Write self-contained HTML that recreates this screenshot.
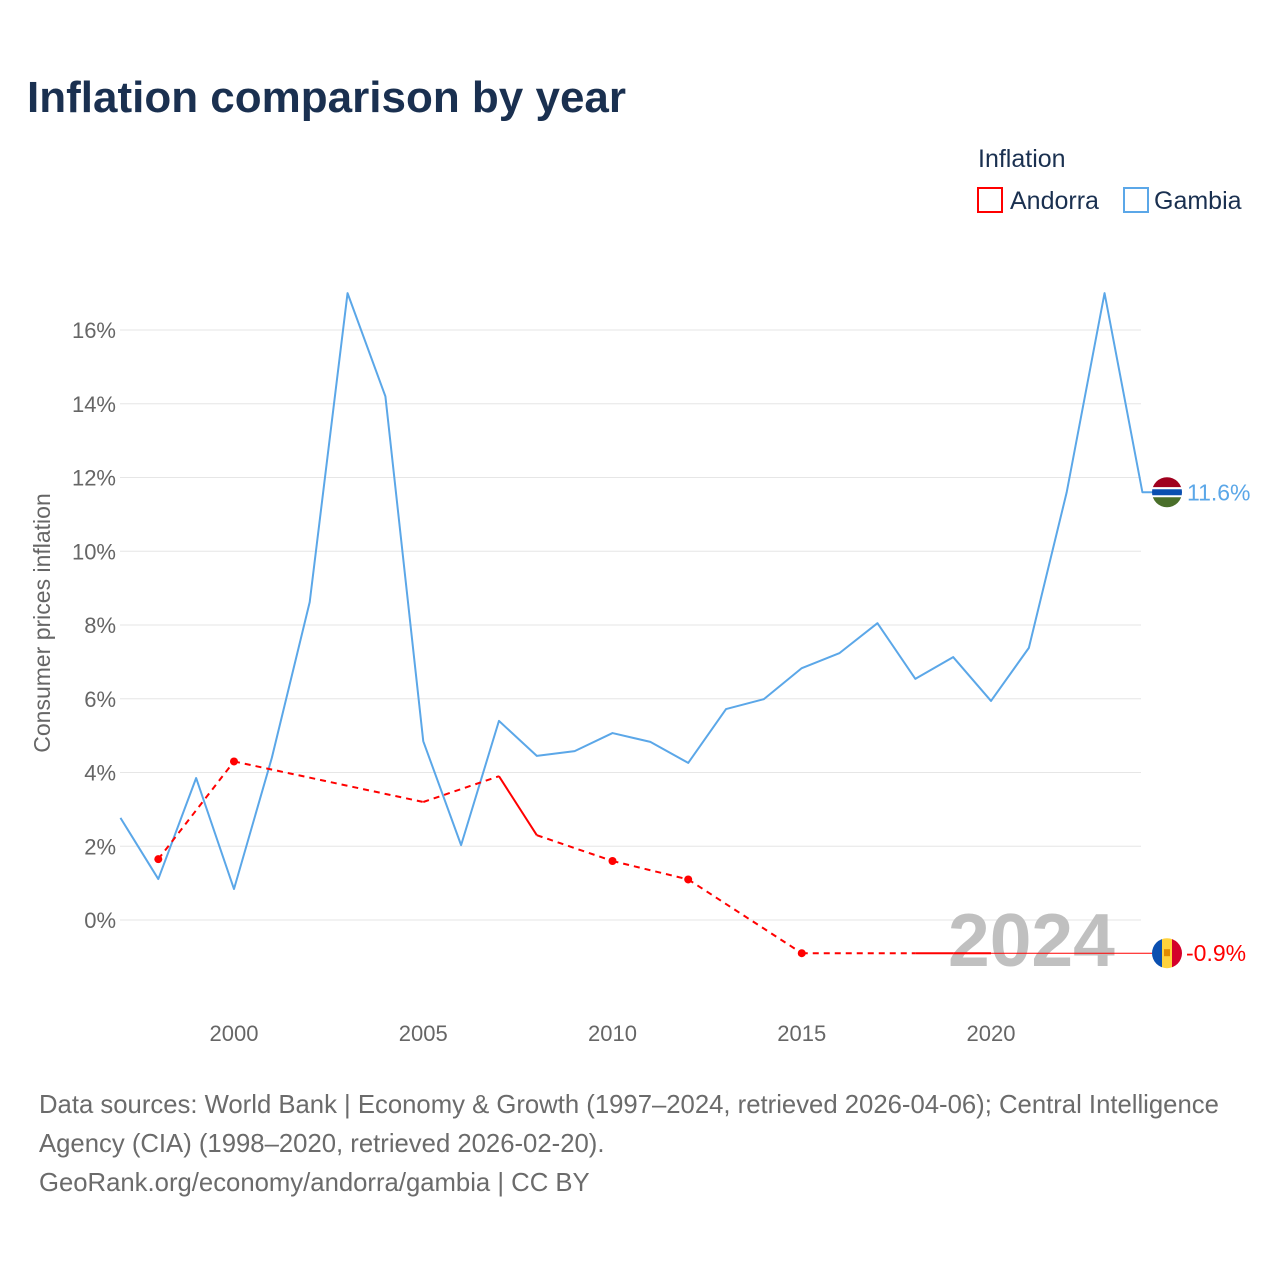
<!DOCTYPE html>
<html><head><meta charset="utf-8">
<style>
body{margin:0;background:#fff;font-family:"Liberation Sans",sans-serif;}
#wrap{position:relative;width:1280px;height:1280px;overflow:hidden;}
</style></head>
<body><div id="wrap">
<svg id="svg" width="1280" height="1280" xmlns="http://www.w3.org/2000/svg">
<text x="27" y="112" font-size="44" font-weight="bold" fill="#1a3050">Inflation comparison by year</text>
<text x="978" y="167" font-size="25" fill="#1a3050">Inflation</text>
<g><rect x="978" y="188" width="24" height="24" fill="none" stroke="#ff0000" stroke-width="2"/><text x="1010" y="209" font-size="25" fill="#1a3050">Andorra</text></g>
<g><rect x="1124" y="188" width="24" height="24" fill="none" stroke="#5ba7e8" stroke-width="2"/><text x="1154" y="209" font-size="25" fill="#1a3050">Gambia</text></g>
<g id="grid"></g>
<text x="948" y="966" font-size="75" font-weight="bold" fill="#c0c0c0">2024</text>
<g id="plot"></g>
<text transform="translate(50,623) rotate(-90)" text-anchor="middle" font-size="23" fill="#666">Consumer prices inflation</text>
<g font-size="25.7" fill="#6b6b6b">
<text x="39" y="1113">Data sources: World Bank | Economy &amp; Growth (1997–2024, retrieved 2026-04-06); Central Intelligence</text>
<text x="39" y="1152">Agency (CIA) (1998–2020, retrieved 2026-02-20).</text>
<text x="39" y="1191">GeoRank.org/economy/andorra/gambia | CC BY</text>
</g>
</svg></div>
<script>
const gambiaYears=[1997,1998,1999,2000,2001,2002,2003,2004,2005,2006,2007,2008,2009,2010,2011,2012,2013,2014,2015,2016,2017,2018,2019,2020,2021,2022,2023,2024];
const gambiaValues=[2.77,1.11,3.85,0.84,4.4,8.62,17.0,14.2,4.85,2.03,5.4,4.45,4.58,5.07,4.83,4.26,5.72,5.99,6.83,7.24,8.05,6.54,7.13,5.94,7.38,11.6,17.0,11.6];
const andorraYears=[1998,2000,2005,2007,2008,2010,2012,2015,2018,2019,2020];
const andorraValues=[1.65,4.3,3.2,3.9,2.3,1.6,1.1,-0.9,-0.9,-0.9,-0.9];
const andorraNoMarker=[2005];
const yTicks=[0,2,4,6,8,10,12,14,16];
const xTicks=[2000,2005,2010,2015,2020];
const NS="http://www.w3.org/2000/svg";
const X=y=>234+(y-2000)*(991-234)/20;
const Y=v=>920-v*(920-330)/16;
function mk(tag,attrs,parent){const e=document.createElementNS(NS,tag);for(const k in attrs)e.setAttribute(k,attrs[k]);parent.appendChild(e);return e;}
const grid=document.getElementById('grid'),plot=document.getElementById('plot');
yTicks.forEach(t=>{
 const l=mk('line',{x1:120,x2:1141,y1:Y(t),y2:Y(t),stroke:'#e6e6e6','stroke-width':1},grid);
 
 
 const tx=mk('text',{x:116,y:Y(t)+8,'text-anchor':'end','font-size':22,fill:'#666'},grid);tx.textContent=t+'%';
 
 
});
xTicks.forEach(t=>{
 const tx=mk('text',{x:X(t),y:1041,'text-anchor':'middle','font-size':22,fill:'#666'},grid);tx.textContent=t;
 
 
});
let d=gambiaYears.map((y,i)=>(i?'L':'M')+X(y)+','+Y(gambiaValues[i])).join(' ');
const gl=gambiaValues[gambiaValues.length-1];
d+=' L1152,'+Y(gl);
const gp=mk('path',{d:d,fill:'none',stroke:'#5ba7e8','stroke-width':2,'stroke-linejoin':'round'},plot);


for(let i=0;i<andorraYears.length-1;i++){
 const cons=andorraYears[i+1]-andorraYears[i]===1;
 const s=mk('line',{x1:X(andorraYears[i]),y1:Y(andorraValues[i]),x2:X(andorraYears[i+1]),y2:Y(andorraValues[i+1]),stroke:'#ff0000','stroke-width':2,'stroke-dasharray':cons?'none':'6,5'},plot);
 
 
}
andorraYears.forEach((y,i)=>{
 const prev=i>0&&y-andorraYears[i-1]===1,next=i<andorraYears.length-1&&andorraYears[i+1]-y===1;
 if(!prev&&!next&&andorraNoMarker.indexOf(y)<0){const c=mk('circle',{cx:X(y),cy:Y(andorraValues[i]),r:4,fill:'#ff0000'},plot);
 
 }
});
const al=andorraValues[andorraValues.length-1];
const ext=mk('line',{x1:X(2020),y1:Y(al),x2:1152,y2:Y(al),stroke:'#ff0000','stroke-width':1},plot);


function flag(cy,type){
 const g=mk('g',{},plot);
 const id='c'+type;
 const cp=mk('clipPath',{id:id},g);mk('circle',{cx:1167,cy:cy,r:15},cp);
 const gg=mk('g',{'clip-path':'url(#'+id+')'},g);
 if(type==='gm'){
  mk('rect',{x:1150,y:cy-16,width:34,height:11,fill:'#a0001e'},gg);
  mk('rect',{x:1150,y:cy-5,width:34,height:10,fill:'#fff'},gg);
  mk('rect',{x:1150,y:cy-3,width:34,height:6,fill:'#0a4fb0'},gg);
  mk('rect',{x:1150,y:cy+5,width:34,height:11,fill:'#4a6f2a'},gg);
 }else{
  mk('rect',{x:1150,y:cy-16,width:12,height:32,fill:'#0a4fb0'},gg);
  mk('rect',{x:1162,y:cy-16,width:10,height:32,fill:'#ffd23c'},gg);
  mk('rect',{x:1172,y:cy-16,width:12,height:32,fill:'#d4002a'},gg);
  mk('rect',{x:1164,y:cy-4,width:6,height:7,fill:'#e08a00'},gg);
 }
 return g;
}
const f1=flag(Y(gl),'gm');


const f2=flag(Y(al),'ad');


const t1=mk('text',{x:1187,y:Y(gl)+8,'font-size':23,fill:'#5ba7e8'},plot);t1.textContent=gl.toFixed(1)+'%';


const t2=mk('text',{x:1186,y:Y(al)+8,'font-size':23,fill:'#ff0000'},plot);t2.textContent=al.toFixed(1)+'%';


</script>
</body></html>
